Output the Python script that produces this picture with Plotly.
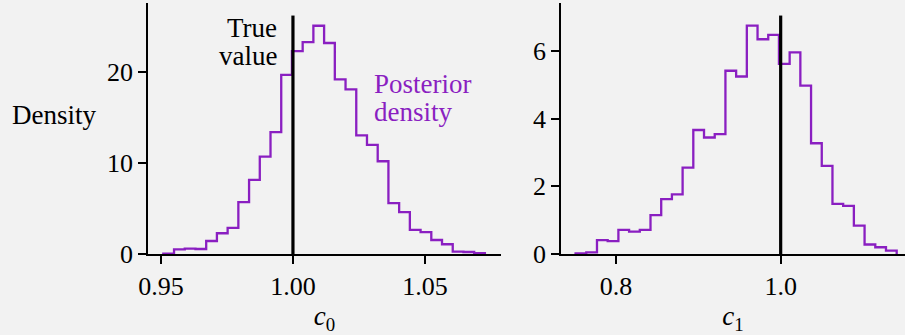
import numpy as np
import plotly.graph_objects as go

# ---------------- data ----------------
c0_bin_start = 0.9509
c0_bin_end = 1.0727
c0_density = [0.05, 0.5, 0.6, 0.55, 1.43, 2.28, 2.87, 5.7, 8.16, 10.7,
              13.4, 19.7, 22.3, 23.3, 25.1, 23.2, 19.2, 18.1, 13.05, 12.0,
              10.2, 5.6, 4.6, 2.65, 2.4, 1.54, 1.07, 0.26, 0.22, 0.1]
c1_bin_start = 0.7509
c1_bin_end = 1.1409
c1_density = [0.02, 0.05, 0.41, 0.38, 0.71, 0.66, 0.71, 1.15, 1.62, 1.76,
              2.55, 3.66, 3.44, 3.54, 5.41, 5.24, 6.74, 6.34, 6.47, 5.61,
              5.95, 4.97, 3.27, 2.60, 1.48, 1.42, 0.84, 0.28, 0.20, 0.10]
true_values = [1.0, 1.0]
c0_ticks = [0.95, 1.00, 1.05]
c0_ticklabels = ["0.95", "1.00", "1.05"]
c1_ticks = [0.8, 1.0]
c1_ticklabels = ["0.8", "1.0"]
c0_yticks = [0, 10, 20]
c1_yticks = [0, 2, 4, 6]

PURPLE = "#8a1fc1"
BG = "#f2f2f2"
FONT = "Liberation Serif"
W, H = 905, 335


def step_xy(lo, hi, vals):
    edges = list(np.linspace(lo, hi, len(vals) + 1))
    x = [edges[0]] + edges
    y = [0] + list(vals) + [0]
    return x, y


fig = go.Figure()
x0, y0 = step_xy(c0_bin_start, c0_bin_end, c0_density)
x1, y1 = step_xy(c1_bin_start, c1_bin_end, c1_density)
fig.add_trace(go.Scatter(x=x0, y=y0, mode="lines", line=dict(shape="hv", color=PURPLE, width=2.3),
                         xaxis="x", yaxis="y", showlegend=False, hoverinfo="skip"))
fig.add_trace(go.Scatter(x=x1, y=y1, mode="lines", line=dict(shape="hv", color=PURPLE, width=2.3),
                         xaxis="x2", yaxis="y2", showlegend=False, hoverinfo="skip"))

# true value lines
for xr, yr, tv in [("x", "y", true_values[0]), ("x2", "y2", true_values[1])]:
    fig.add_shape(type="line", xref=xr, yref=yr + " domain", x0=tv, x1=tv, y0=0, y1=0.95,
                  line=dict(color="black", width=3.2))

ydom = [1 - 254 / H, 1 - 3 / H]
axis_common = dict(showline=True, linecolor="black", linewidth=1.5, ticks="outside",
                   ticklen=8, tickwidth=1.5, tickcolor="black", showgrid=False,
                   zeroline=False, automargin=False,
                   tickfont=dict(family=FONT, size=26, color="black"))

fig.update_layout(
    width=W, height=H,
    margin=dict(l=0, r=0, t=0, b=0, autoexpand=False),
    paper_bgcolor=BG, plot_bgcolor=BG,
    font=dict(family=FONT, size=26, color="black"),
    xaxis=dict(domain=[148 / W, 501 / W], range=[0.9451, 1.0788], anchor="y",
               tickvals=c0_ticks, ticktext=c0_ticklabels,
               title=dict(text="<i>c</i><sub>0</sub>", standoff=10,
                          font=dict(family=FONT, size=27)), **axis_common),
    yaxis=dict(domain=ydom, range=[0, 27.6], anchor="x", tickvals=c0_yticks, **axis_common),
    xaxis2=dict(domain=[561 / W, 1.0], range=[0.7332, 1.151], anchor="y2",
                tickvals=c1_ticks, ticktext=c1_ticklabels,
                title=dict(text="<i>c</i><sub>1</sub>", standoff=10,
                           font=dict(family=FONT, size=27)), **axis_common),
    yaxis2=dict(domain=ydom, range=[0, 7.41], anchor="x2", tickvals=c1_yticks, **axis_common),
)

def ann(text, xpx, ypx, xanchor, color="black"):
    fig.add_annotation(text=text, x=xpx / W, y=1 - ypx / H, xref="paper", yref="paper",
                       xanchor=xanchor, yanchor="middle", showarrow=False,
                       font=dict(family=FONT, size=27, color=color))

ann("Density", 10, 115, "left")
ann("True", 279, 28, "right")
ann("value", 279, 56, "right")
ann("Posterior", 372, 84, "left", PURPLE)
ann("density", 372, 112, "left", PURPLE)

fig.write_html("out.html", config={"displayModeBar": False},
               post_script="document.body.style.margin='0';document.body.style.overflow='hidden';")
